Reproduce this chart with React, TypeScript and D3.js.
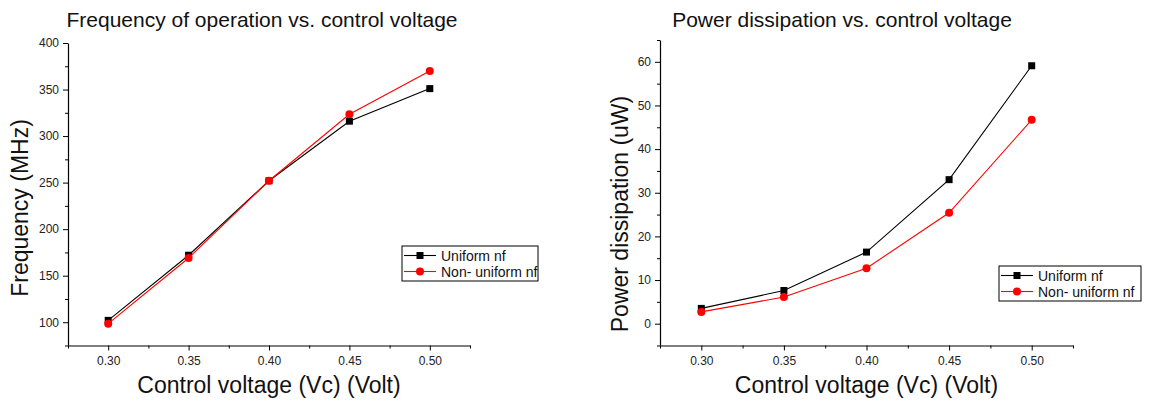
import React, { useEffect, useRef } from 'react';
import * as d3 from 'd3';

// control voltage (V)
const voltages = [0.3, 0.35, 0.4, 0.45, 0.5];

// frequency (MHz)
const freqUniform = [102, 172, 252, 316, 351];
const freqNonUniform = [98.5, 169, 252, 323.5, 370];

// power dissipation (uW)
const powerUniform = [3.5, 7.6, 16.4, 33, 59.1];
const powerNonUniform = [2.7, 6.1, 12.7, 25.4, 46.7];

const seriesNames = ['Uniform nf', 'Non- uniform nf'];
const seriesColors = ['#000000', '#ff0000'];

const xTicks = [0.3, 0.35, 0.4, 0.45, 0.5];
const freqTicks = [100, 150, 200, 250, 300, 350, 400];
const powerTicks = [0, 10, 20, 30, 40, 50, 60];

const FONT = '"Liberation Sans", Arial, sans-serif';

type PanelCfg = {
  title: string;
  titleX: number;
  yLabel: string;
  yLabelX: number;
  yLabelY: number;
  left: number;
  right: number;
  top: number;
  bottom: number;
  yDomain: [number, number];
  yTicks: number[];
  yMinor: number[];
  series: number[][];
  legend: { x: number; y: number; w: number; h: number };
};

const drawPanel = (svg: d3.Selection<SVGSVGElement, unknown, null, undefined>, cfg: PanelCfg) => {
  const g = svg.append('g');

  const xScale = d3.scaleLinear().domain([0.275, 0.525]).range([cfg.left, cfg.right]);
  const yScale = d3.scaleLinear().domain(cfg.yDomain).range([cfg.bottom, cfg.top]);

  // minor ticks
  const xMinor = [0.275, 0.325, 0.375, 0.425, 0.475, 0.525];
  g.append('g')
    .attr('transform', `translate(0,${cfg.bottom})`)
    .call(d3.axisBottom(xScale).tickValues(xMinor).tickSize(3).tickFormat(() => ''))
    .call((a) => a.select('.domain').remove());
  g.append('g')
    .attr('transform', `translate(${cfg.left},0)`)
    .call(d3.axisLeft(yScale).tickValues(cfg.yMinor).tickSize(3).tickFormat(() => ''))
    .call((a) => a.select('.domain').remove());

  // major axes
  const xAxis = g.append('g')
    .attr('transform', `translate(0,${cfg.bottom})`)
    .call(d3.axisBottom(xScale).tickValues(xTicks).tickSize(5).tickSizeOuter(0).tickPadding(6).tickFormat(d3.format('.2f')));
  const yAxis = g.append('g')
    .attr('transform', `translate(${cfg.left},0)`)
    .call(d3.axisLeft(yScale).tickValues(cfg.yTicks).tickSize(5).tickSizeOuter(0).tickPadding(4));

  [xAxis, yAxis].forEach((a) => {
    a.selectAll('text').attr('font-family', FONT).attr('font-size', 12).attr('fill', '#222');
    a.select('.domain').attr('stroke-width', 1.2);
  });

  // lines + markers
  cfg.series.forEach((vals, i) => {
    const pts: [number, number][] = voltages.map((v, j) => [v, vals[j]]);
    const line = d3.line<[number, number]>().x((d) => xScale(d[0])).y((d) => yScale(d[1]));
    g.append('path')
      .attr('d', line(pts))
      .attr('fill', 'none')
      .attr('stroke', seriesColors[i])
      .attr('stroke-width', 1.1);
    if (i === 0) {
      g.selectAll(null).data(pts).enter().append('rect')
        .attr('x', (d) => xScale(d[0]) - 3.5)
        .attr('y', (d) => yScale(d[1]) - 3.5)
        .attr('width', 7).attr('height', 7)
        .attr('fill', seriesColors[i]);
    } else {
      g.selectAll(null).data(pts).enter().append('circle')
        .attr('cx', (d) => xScale(d[0]))
        .attr('cy', (d) => yScale(d[1]))
        .attr('r', 4)
        .attr('fill', seriesColors[i]);
    }
  });

  // title
  g.append('text')
    .attr('x', cfg.titleX).attr('y', 27)
    .attr('text-anchor', 'middle')
    .attr('font-family', FONT).attr('font-size', 21).attr('fill', '#111')
    .text(cfg.title);

  // x label
  g.append('text')
    .attr('x', (cfg.left + cfg.right) / 2 + 0).attr('y', 393)
    .attr('text-anchor', 'middle')
    .attr('font-family', FONT).attr('font-size', 23).attr('fill', '#111')
    .text('Control voltage (Vc) (Volt)');

  // y label
  g.append('text')
    .attr('transform', `translate(${cfg.yLabelX},${cfg.yLabelY}) rotate(-90)`)
    .attr('text-anchor', 'middle')
    .attr('font-family', FONT).attr('font-size', 23).attr('fill', '#111')
    .text(cfg.yLabel);

  // legend
  const lg = g.append('g').attr('transform', `translate(${cfg.legend.x},${cfg.legend.y})`);
  lg.append('rect')
    .attr('width', cfg.legend.w).attr('height', cfg.legend.h)
    .attr('fill', '#fff').attr('stroke', '#000').attr('stroke-width', 1);
  seriesNames.forEach((name, i) => {
    const cy = 9.5 + i * 16;
    lg.append('line')
      .attr('x1', 2).attr('x2', 34).attr('y1', cy).attr('y2', cy)
      .attr('stroke', seriesColors[i]).attr('stroke-width', 1.1);
    if (i === 0) {
      lg.append('rect').attr('x', 18 - 3.5).attr('y', cy - 3.5).attr('width', 7).attr('height', 7).attr('fill', seriesColors[i]);
    } else {
      lg.append('circle').attr('cx', 18).attr('cy', cy).attr('r', 4).attr('fill', seriesColors[i]);
    }
    lg.append('text')
      .attr('x', 39).attr('y', cy + 5)
      .attr('font-family', FONT).attr('font-size', 14).attr('fill', '#111')
      .text(name);
  });
};

const App = () => {
  const ref = useRef<SVGSVGElement>(null);

  useEffect(() => {
    if (!ref.current) return;
    const svg = d3.select(ref.current);
    svg.selectAll('*').remove();

    drawPanel(svg, {
      title: 'Frequency of operation vs. control voltage',
      titleX: 262,
      yLabel: 'Frequency (MHz)',
      yLabelX: 28,
      yLabelY: 208,
      left: 68,
      right: 470,
      top: 43,
      bottom: 345.5,
      yDomain: [75, 400],
      yTicks: freqTicks,
      yMinor: [75, 125, 175, 225, 275, 325, 375],
      series: [freqUniform, freqNonUniform],
      legend: { x: 402, y: 246, w: 136, h: 35 },
    });

    drawPanel(svg, {
      title: 'Power dissipation vs. control voltage',
      titleX: 842,
      yLabel: 'Power dissipation (uW)',
      yLabelX: 628,
      yLabelY: 214,
      left: 660,
      right: 1073,
      top: 40,
      bottom: 345.5,
      yDomain: [-5, 65],
      yTicks: powerTicks,
      yMinor: [-5, 5, 15, 25, 35, 45, 55, 65],
      series: [powerUniform, powerNonUniform],
      legend: { x: 999, y: 266, w: 142, h: 35 },
    });
  }, []);

  return (
    <svg
      ref={ref}
      width={1151}
      height={405}
      style={{ position: 'absolute', left: 0, top: 0, background: '#fff' }}
    />
  );
};

export default App;
